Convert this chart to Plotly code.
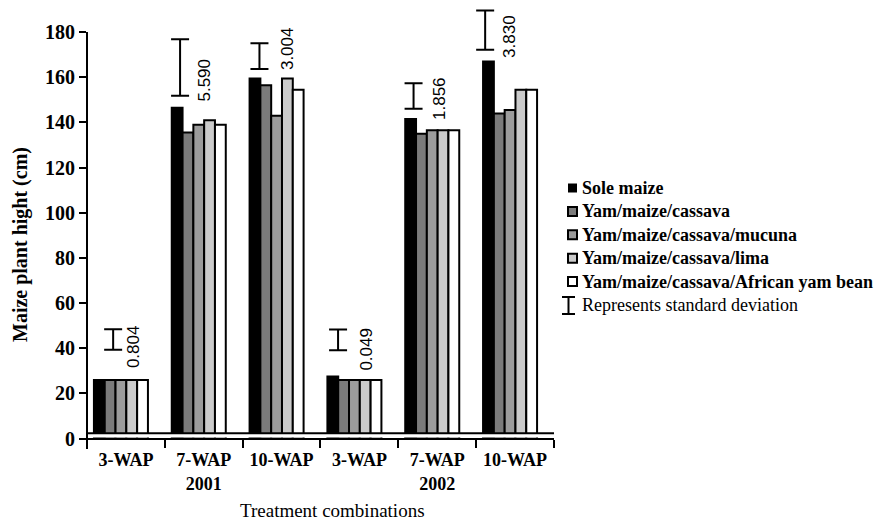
import plotly.graph_objects as go

# ---------------- data ----------------
periods = ["3-WAP", "7-WAP<br>2001", "10-WAP", "3-WAP", "7-WAP<br>2002", "10-WAP"]
series_names = [
    "Sole maize",
    "Yam/maize/cassava",
    "Yam/maize/cassava/mucuna",
    "Yam/maize/cassava/lima",
    "Yam/maize/cassava/African yam bean",
]
sole_maize = [26, 146.5, 159.5, 27.5, 141.5, 167]
yam_maize_cassava = [26, 135.5, 156.5, 26, 135, 144]
ymc_mucuna = [26, 139, 143, 26, 136.5, 145.5]
ymc_lima = [26, 141, 159.5, 26, 136.5, 154.5]
ymc_african_yam_bean = [26, 139, 154.5, 26, 136.5, 154.5]

sd_labels = ["0.804", "5.590", "3.004", "0.049", "1.856", "3.830"]
sd_bar_x = [-0.10, 0.76, 1.78, 2.79, 3.76, 4.68]
sd_bar_mid = [43.9, 164.3, 169.4, 43.7, 151.7, 180.9]
sd_bar_half = [4.5, 12.5, 5.7, 4.6, 5.6, 8.7]
sd_label_x = [0.17, 1.08, 2.14, 3.16, 4.10, 5.00]
sd_label_y = [40.6, 159.0, 172.7, 39.8, 150.4, 177.9]

y_tick_values = [0, 20, 40, 60, 80, 100, 120, 140, 160, 180]

# ---------------- layout constants ----------------
W, H = 880, 525
L, R, T, B = 87, 326, 5, 76
PW, PH = W - L - R, H - T - B
Y_MIN, Y_MAX = -4.6, 192
SHIFT = 0.064

colors = ["#000000", "#7b7b7b", "#9c9c9c", "#cbcbcb", "#ffffff"]
series = [sole_maize, yam_maize_cassava, ymc_mucuna, ymc_lima, ymc_african_yam_bean]
xpos = list(range(len(periods)))

SERIF = "Liberation Serif"
SANS = "Liberation Sans"


def xp(px):
    return (px - L) / PW


def yp(py):
    return (H - B - py) / PH


fig = go.Figure()
for name, vals, col in zip(series_names, series, colors):
    fig.add_trace(go.Bar(
        x=xpos, y=vals, name=name,
        marker=dict(color=col, line=dict(color="black", width=2)),
        showlegend=False,
    ))

fig.add_trace(go.Scatter(
    x=sd_bar_x, y=sd_bar_mid, mode="markers",
    marker=dict(size=1, color="rgba(0,0,0,0)"),
    error_y=dict(type="data", array=sd_bar_half, symmetric=True,
                 color="black", thickness=2, width=9),
    showlegend=False, hoverinfo="skip",
))

annotations = []
for lx, ly, txt in zip(sd_label_x, sd_label_y, sd_labels):
    annotations.append(dict(
        x=lx, y=ly, xref="x", yref="y", text=txt, showarrow=False,
        xanchor="center", yanchor="middle",
        textangle=-90, font=dict(family=SANS, size=17, color="black"),
    ))

# axis titles
annotations.append(dict(
    x=xp(20), y=yp(245), xref="paper", yref="paper", text="<b>Maize plant hight (cm)</b>",
    xanchor="center", yanchor="middle",
    showarrow=False, textangle=-90, font=dict(family=SERIF, size=20, color="black"),
))
annotations.append(dict(
    x=xp(332), y=yp(510), xref="paper", yref="paper", text="Treatment combinations",
    xanchor="center", yanchor="middle",
    showarrow=False, font=dict(family=SERIF, size=19, color="black"),
))

shapes = []
# gap between bar bottoms and x axis
shapes.append(dict(type="rect", xref="paper", yref="y", x0=xp(88.5), x1=1.0,
                   y0=0.5, y1=2.2, fillcolor="white", line=dict(width=0), layer="above"))
shapes.append(dict(type="line", xref="paper", yref="y", x0=0, x1=1, y0=2.4, y1=2.4,
                   line=dict(color="black", width=2), layer="above"))
# y axis line
shapes.append(dict(type="line", xref="paper", yref="y", x0=0, x1=0, y0=Y_MIN, y1=180,
                   line=dict(color="black", width=2), layer="above"))

# manual legend
row0, row_gap = 188, 23.4
for i, (name, col) in enumerate(zip(series_names, colors)):
    ry = row0 + row_gap * i
    shapes.append(dict(type="rect", xref="paper", yref="paper",
                       x0=xp(568), x1=xp(577), y0=yp(ry + 4.5), y1=yp(ry - 4.5),
                       fillcolor=col, line=dict(color="black", width=2 if i else 0)))
    annotations.append(dict(x=xp(580), y=yp(ry), xref="paper", yref="paper",
                            xanchor="left", yanchor="middle", text="<b>" + name + "</b>",
                            showarrow=False, font=dict(family=SERIF, size=18, color="black")))
ry = row0 + row_gap * 5
cx = 568.5
shapes.append(dict(type="line", xref="paper", yref="paper", x0=xp(cx), x1=xp(cx),
                   y0=yp(ry - 8), y1=yp(ry + 9), line=dict(color="black", width=2)))
shapes.append(dict(type="line", xref="paper", yref="paper", x0=xp(cx - 6.5), x1=xp(cx + 6.5),
                   y0=yp(ry - 8), y1=yp(ry - 8), line=dict(color="black", width=2)))
shapes.append(dict(type="line", xref="paper", yref="paper", x0=xp(cx - 6.5), x1=xp(cx + 6.5),
                   y0=yp(ry + 9), y1=yp(ry + 9), line=dict(color="black", width=2)))
annotations.append(dict(x=xp(580), y=yp(ry), xref="paper", yref="paper",
                        xanchor="left", yanchor="middle", text="Represents standard deviation",
                        showarrow=False, font=dict(family=SERIF, size=18, color="black")))

x_pos_zero = (0 - Y_MIN) / (Y_MAX - Y_MIN)

fig.update_layout(
    width=W, height=H,
    margin=dict(l=L, r=R, t=T, b=B, pad=0),
    paper_bgcolor="white", plot_bgcolor="white",
    barmode="group", bargap=0.306, bargroupgap=0,
    showlegend=False,
    annotations=annotations,
    shapes=shapes,
    xaxis=dict(
        range=[-0.5 + SHIFT, len(periods) - 0.5 + SHIFT + 0.0005],
        anchor="free", position=x_pos_zero,
        showline=True, linecolor="black", linewidth=2,
        showgrid=False, zeroline=False,
        tickmode="array", tickvals=[p + SHIFT for p in xpos],
        ticktext=["<b>%s</b>" % t for t in periods],
        ticks="outside", ticklen=5, tickcolor="rgba(0,0,0,0)",
        tickfont=dict(family=SERIF, size=18, color="black"),
        minor=dict(tickmode="array", tickvals=[p + 0.5 + SHIFT for p in xpos],
                   ticks="outside", ticklen=8, tickwidth=2, tickcolor="black", showgrid=False),
    ),
    yaxis=dict(
        range=[Y_MIN, Y_MAX],
        showline=False, showgrid=False, zeroline=False,
        tickmode="array", tickvals=y_tick_values,
        ticktext=["<b>%d</b>" % v for v in y_tick_values],
        ticks="outside", ticklen=7, tickwidth=2, tickcolor="black",
        tickfont=dict(family=SERIF, size=20, color="black"),
    ),
)

fig.write_html("out.html", config={"displayModeBar": False})

# remove the default page margin so the figure sits at the window origin
with open("out.html", "r", encoding="utf-8") as f:
    html = f.read()
html = html.replace("<body>", '<body style="margin:0;padding:0;">', 1)
html = html.replace("<head>", "<head><style>html,body{margin:0;padding:0;overflow:hidden;}</style>", 1)
with open("out.html", "w", encoding="utf-8") as f:
    f.write(html)
